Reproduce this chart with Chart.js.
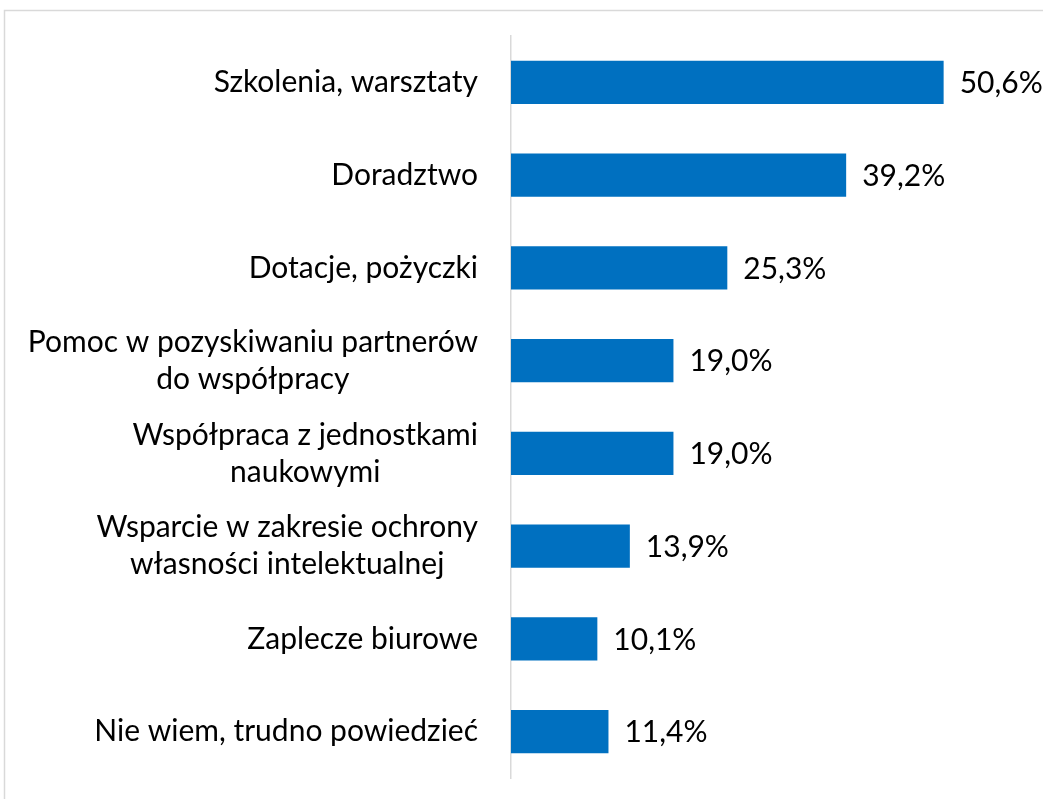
<!DOCTYPE html>
<html>
<head>
<meta charset="utf-8">
<script src="https://cdn.jsdelivr.net/npm/chart.js@4/dist/chart.umd.min.js"></script>
<style>
  html, body { margin: 0; padding: 0; background: #fff; }
  #wrap { width: 1043px; height: 799px; position: relative; }
</style>
</head>
<body>
<div id="wrap"><canvas id="chart"></canvas></div>
<script>
// kategorie (linie etykiet) i wartości w %
var categories = [
  ['Szkolenia, warsztaty'],
  ['Doradztwo'],
  ['Dotacje, pożyczki'],
  ['Pomoc w pozyskiwaniu partnerów', 'do współpracy'],
  ['Współpraca z jednostkami', 'naukowymi'],
  ['Wsparcie w zakresie ochrony', 'własności intelektualnej'],
  ['Zaplecze biurowe'],
  ['Nie wiem, trudno powiedzieć']
];
var values = [50.6, 39.2, 25.3, 19.0, 19.0, 13.9, 10.1, 11.4];
var axisMax = 60;

var FONT = '30px Lato';

// ramka wykresu i etykiety kategorii rysowane obok osi
var labelsPlugin = {
  id: 'labelsPlugin',
  beforeDraw: function (chart) {
    var ctx = chart.ctx;
    ctx.save();
    ctx.strokeStyle = '#d9d9d9';
    ctx.lineWidth = 1.5;
    ctx.beginPath();
    ctx.moveTo(4.5, chart.height + 5);
    ctx.lineTo(4.5, 10.5);
    ctx.lineTo(chart.width + 5, 10.5);
    ctx.stroke();
    ctx.restore();
  },
  afterDraw: function (chart) {
    var ctx = chart.ctx;
    var yScale = chart.scales.y;
    var right = chart.chartArea.left - 33;
    var lineH = 37;
    ctx.save();
    ctx.font = FONT;
    ctx.fillStyle = '#000';
    ctx.textAlign = 'center';
    ctx.textBaseline = 'middle';
    categories.forEach(function (lines, i) {
      var w = 0;
      lines.forEach(function (l) { w = Math.max(w, ctx.measureText(l).width); });
      var cx = right - w / 2;
      var cy = yScale.getPixelForValue(i);
      var y0 = cy - (lines.length - 1) * lineH / 2;
      lines.forEach(function (l, k) {
        ctx.fillText(l, cx, y0 + k * lineH);
      });
    });
    // wartości przy słupkach
    var meta = chart.getDatasetMeta(0);
    ctx.textAlign = 'left';
    meta.data.forEach(function (bar, i) {
      ctx.fillText(values[i].toFixed(1).replace('.', ',') + '%', bar.x + 16, bar.y + 1);
    });
    ctx.restore();
  }
};

new Chart(document.getElementById('chart'), {
  type: 'bar',
  data: {
    labels: categories.map(function (c) { return c.join(' '); }),
    datasets: [{
      data: values,
      backgroundColor: '#0070C0',
      borderWidth: 0,
      categoryPercentage: 1,
      barPercentage: 0.464
    }]
  },
  options: {
    indexAxis: 'y',
    responsive: true,
    maintainAspectRatio: false,
    animation: false,
    layout: { padding: { left: 511, top: 36, bottom: 21, right: 19 } },
    plugins: {
      legend: { display: false },
      tooltip: { enabled: false }
    },
    scales: {
      x: {
        display: false,
        min: 0,
        max: axisMax
      },
      y: {
        display: true,
        ticks: { display: false },
        grid: { display: false, drawTicks: false },
        border: { display: true, color: '#d9d9d9', width: 1.5 }
      }
    }
  },
  plugins: [labelsPlugin]
});
</script>
</body>
</html>
